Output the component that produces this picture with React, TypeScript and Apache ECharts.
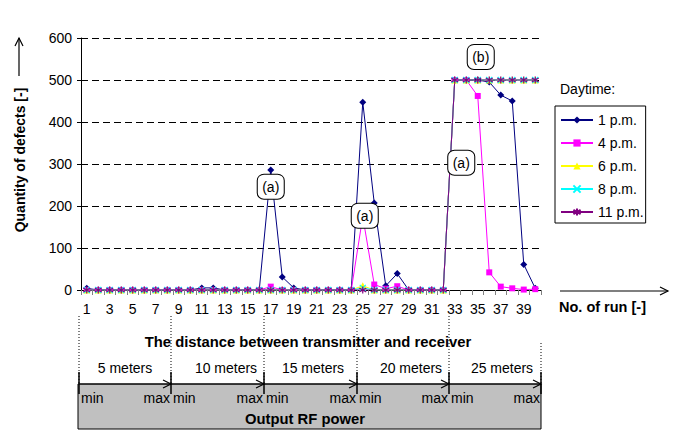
import React, { useEffect, useRef } from "react";
import * as echarts from "echarts";

const runs: string[] = Array.from({ length: 40 }, (_, i) => String(i + 1));

const pm1 = [4,0,0,0,0,0,0,0,0,0,5,5,0,0,0,0,286,31,5,0,0,0,0,0,447,207,10,39,0,0,0,0,500,500,500,495,464,450,61,4];
const pm4 = [0,0,0,0,0,0,0,0,0,0,0,0,0,0,0,0,8,0,0,0,0,0,0,0,175,13,3,9,0,0,0,0,500,500,462,42,8,4,1,2];
const pm6 = [0,0,0,0,0,0,0,0,0,0,0,0,0,0,0,0,0,0,0,0,0,0,0,0,10,0,0,0,0,0,0,0,500,500,500,500,500,500,500,500];
const pm8 = [0,0,0,0,0,0,0,0,0,0,0,0,0,0,0,0,0,0,0,0,0,0,0,0,5,0,0,0,0,0,0,0,500,500,500,500,500,500,500,500];
const pm11 = [0,0,0,0,0,0,0,0,0,0,0,0,0,0,0,0,0,0,0,0,0,0,0,0,0,0,0,0,0,0,0,0,500,500,500,500,500,500,500,500];

const seriesNames = ["1 p.m.", "4 p.m.", "6 p.m.", "8 p.m.", "11 p.m."];
const distanceLabels = ["5 meters", "10 meters", "15 meters", "20 meters", "25 meters"];
const yTicks = [0, 100, 200, 300, 400, 500, 600];

const FONT = '"Liberation Sans", Arial, sans-serif';
const BOLD_SIZE = 14.8;

const X_SYMBOL = "path://M0,0L10,10M10,0L0,10";
const STAR_SYMBOL = "path://M5,0L5,10M0,2L10,8M10,2L0,8";

export default function App() {
  const ref = useRef<HTMLDivElement>(null);
  useEffect(() => {
    document.body.style.margin = "0";
    if (!ref.current) return;
    const chart = echarts.init(ref.current, null, { renderer: "svg" });

    const segX = [79, 171, 264, 357, 449, 541];
    const meterCx = [125, 226, 313, 411, 502];
    const graphics: any[] = [];

    graphics.push({
      type: "rect",
      shape: { x: 78, y: 384, width: 463, height: 45 },
      style: { fill: "#c0c0c0", stroke: "#000", lineWidth: 1 },
      z: 1,
    });
    segX.forEach((x, i) => {
      graphics.push({
        type: "line",
        shape: { x1: x, y1: i === 5 ? 343 : 316, x2: x, y2: 383 },
        style: { stroke: "#000", lineWidth: 1, lineDash: [1, 2] },
        z: 2,
      });
      graphics.push({
        type: "line",
        shape: { x1: x, y1: 372, x2: x, y2: 394 },
        style: { stroke: "#000", lineWidth: 1.5 },
        z: 3,
      });
    });
    for (let i = 0; i < 5; i++) {
      const x0 = segX[i];
      const x1 = segX[i + 1];
      graphics.push({
        type: "line",
        shape: { x1: x0, y1: 384, x2: x1, y2: 384 },
        style: { stroke: "#000", lineWidth: 1.2 },
        z: 3,
      });
      graphics.push({
        type: "polyline",
        shape: { points: [[x1 - 8, 380], [x1, 384], [x1 - 8, 388]] },
        style: { stroke: "#000", lineWidth: 1.2, fill: "none" },
        z: 3,
      });
      graphics.push({
        type: "text",
        style: { text: distanceLabels[i], x: meterCx[i], y: 368, fontSize: 14, fontFamily: FONT, fill: "#000", align: "center", verticalAlign: "middle" },
        z: 4,
      });
      graphics.push({
        type: "text",
        style: { text: "min", x: x0 + 2, y: 398, fontSize: 14, fontFamily: FONT, fill: "#000", align: "left", verticalAlign: "middle" },
        z: 4,
      });
      graphics.push({
        type: "text",
        style: { text: "max", x: x1 - 1, y: 398, fontSize: 14, fontFamily: FONT, fill: "#000", align: "right", verticalAlign: "middle" },
        z: 4,
      });
    }
    graphics.push({
      type: "text",
      style: { text: "The distance between transmitter and receiver", x: 308, y: 342, fontSize: BOLD_SIZE, fontWeight: "bold", fontFamily: FONT, fill: "#000", align: "center", verticalAlign: "middle" },
      z: 4,
    });
    graphics.push({
      type: "text",
      style: { text: "Output RF power", x: 305, y: 419, fontSize: BOLD_SIZE, fontWeight: "bold", fontFamily: FONT, fill: "#000", align: "center", verticalAlign: "middle" },
      z: 4,
    });
    graphics.push({
      type: "line",
      shape: { x1: 560, y1: 291, x2: 668, y2: 291 },
      style: { stroke: "#000", lineWidth: 1.2 },
    });
    graphics.push({
      type: "polyline",
      shape: { points: [[660, 287], [668, 291], [660, 295]] },
      style: { stroke: "#000", lineWidth: 1.2, fill: "none" },
    });
    graphics.push({
      type: "text",
      style: { text: "No. of run [-]", x: 559, y: 307, fontSize: 14.5, fontWeight: "bold", fontFamily: FONT, fill: "#000", align: "left", verticalAlign: "middle" },
    });
    graphics.push({
      type: "text",
      rotation: Math.PI / 2,
      x: 20,
      y: 160,
      style: { text: "Quantity of defects [-]", x: 0, y: 0, fontSize: 14, fontWeight: "bold", fontFamily: FONT, fill: "#000", align: "center", verticalAlign: "middle" },
    });
    graphics.push({
      type: "line",
      shape: { x1: 19, y1: 76, x2: 19, y2: 38 },
      style: { stroke: "#000", lineWidth: 1.2 },
    });
    graphics.push({
      type: "polyline",
      shape: { points: [[15, 46], [19, 38], [23, 46]] },
      style: { stroke: "#000", lineWidth: 1.2, fill: "none" },
    });
    graphics.push({
      type: "text",
      style: { text: "Daytime:", x: 560, y: 89, fontSize: 14, fontFamily: FONT, fill: "#000", align: "left", verticalAlign: "middle" },
    });

    const annot = {
      symbol: "roundRect",
      symbolSize: [27, 25],
      itemStyle: { color: "#fff", borderColor: "#000", borderWidth: 1 },
      label: { show: true, position: "inside", color: "#000", fontSize: 14, fontFamily: FONT, formatter: (p: any) => p.name },
      z: 10,
    };

    const mk = (name: string, data: number[], color: string, symbol: string, size: number, stroke?: boolean, extra?: any) => ({
      name,
      type: "line",
      data,
      symbol,
      symbolSize: size,
      showAllSymbol: true,
      lineStyle: { color, width: 1 },
      itemStyle: stroke
        ? { color: "rgba(0,0,0,0)", borderColor: color, borderWidth: 1.2 }
        : { color, borderColor: color, borderWidth: 0 },
      emphasis: { disabled: true },
      ...extra,
    });

    chart.setOption({
      animation: false,
      textStyle: { fontFamily: FONT },
      grid: { left: 81, right: 135, top: 38, bottom: 140, containLabel: false },
      legend: {
        orient: "vertical",
        left: 555,
        top: 106,
        data: seriesNames,
        itemWidth: 32,
        itemHeight: 9,
        itemGap: 9,
        padding: [7, 2, 4, 5],
        borderColor: "#000",
        borderWidth: 1,
        textStyle: { fontSize: 14, color: "#000", fontFamily: FONT },
        selectedMode: false,
      },
      xAxis: {
        type: "category",
        data: runs,
        boundaryGap: true,
        axisLine: { show: true, lineStyle: { color: "#000", width: 1 } },
        axisTick: { show: true, interval: 0, length: 5, lineStyle: { color: "#808080" } },
        axisLabel: { interval: 1, fontSize: 14, color: "#000", margin: 12, fontFamily: FONT },
        splitLine: { show: false },
      },
      yAxis: {
        type: "value",
        min: yTicks[0],
        max: yTicks[yTicks.length - 1],
        interval: 100,
        axisLine: { show: true, lineStyle: { color: "#000", width: 1 } },
        axisTick: { show: true, length: 4, lineStyle: { color: "#000" } },
        axisLabel: { fontSize: 14, color: "#000", margin: 9, fontFamily: FONT },
        splitLine: { show: true, lineStyle: { color: "#000", type: [7, 4], width: 1 } },
      },
      series: [
        mk(seriesNames[0], pm1, "#000080", "diamond", 7, false, {
          markPoint: {
            ...annot,
            data: [
              { name: "(a)", coord: ["17", 246] },
              { name: "(a)", coord: ["25", 177], symbolOffset: [2, 0] },
              { name: "(a)", coord: ["33", 303], symbolOffset: [6.5, 0] },
              { name: "(b)", coord: ["35", 555], symbolOffset: [3, 0] },
            ],
          },
        }),
        mk(seriesNames[1], pm4, "#ff00ff", "rect", 6),
        mk(seriesNames[2], pm6, "#ffff00", "triangle", 7),
        mk(seriesNames[3], pm8, "#00ffff", X_SYMBOL, 6, true),
        mk(seriesNames[4], pm11, "#800080", STAR_SYMBOL, 7, true),
      ],
      graphic: graphics,
    });
    return () => chart.dispose();
  }, []);
  return <div ref={ref} style={{ width: 676, height: 430 }} />;
}
